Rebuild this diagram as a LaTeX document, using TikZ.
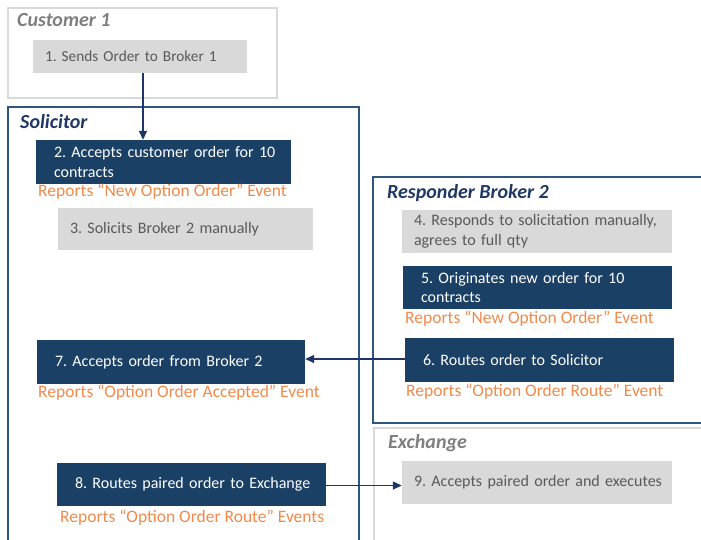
\documentclass[tikz,border=0pt]{standalone}
\usepackage{fontspec}
\setmainfont{Carlito}
\usetikzlibrary{arrows.meta}
\definecolor{navy}{HTML}{1B4065}
\definecolor{boxgray}{HTML}{D9D9D9}
\definecolor{txtgray}{HTML}{595959}
\definecolor{ttlgray}{HTML}{7F7F7F}
\definecolor{ttlblue}{HTML}{1F3864}
\definecolor{frameblue}{HTML}{31557F}
\definecolor{orng}{HTML}{F08A4B}
\definecolor{arrblue}{HTML}{1F3468}
\frenchspacing
\hbadness=10000 \hfuzz=200pt
\begin{document}
\begin{tikzpicture}[x=1pt,y=-1pt,
  base/.style={font=\fontsize{16}{19.5}\selectfont, align=left, inner ysep=0pt, anchor=center},
  navybox/.style={base, fill=navy, text=white, inner xsep=18pt},
  graybox/.style={base, fill=boxgray, text=txtgray, inner xsep=12pt},
  evt/.style={font=\fontsize{17.5}{19}\selectfont, text=orng, anchor=west, inner sep=0pt},
  ttl/.style={font=\fontsize{20}{22}\selectfont\bfseries\itshape, anchor=west, inner sep=0pt},
  grayframe/.style={draw=boxgray, line width=2pt},
  blueframe/.style={draw=frameblue, line width=2pt},
  arr/.style={draw=arrblue, line width=1.4pt, -{Triangle[length=9pt,width=8pt]}}]
\useasboundingbox (0,0) rectangle (701,539);
\begin{scope}
\clip (0,0) rectangle (701,539);
\draw[grayframe] (8,8) rectangle (277,98);
\draw[blueframe] (8,107) rectangle (359,560);
\draw[blueframe] (373,177) rectangle (720,423);
\draw[grayframe] (374,428) rectangle (720,560);
\end{scope}
\node[ttl, text=ttlgray] (t1) at (17,20) {Customer 1};
\node[ttl, text=ttlblue] (t2) at (20,122) {Solicitor};
\node[ttl, text=ttlblue] (t3) at (387,193) {Responder Broker 2};
\node[ttl, text=ttlgray] (t4) at (388,443) {Exchange};
% boxes
\node[graybox, font=\fontsize{15.3}{19}\selectfont, minimum width=214pt, minimum height=33pt, text width=190pt] (b1) at (140,56.5) {\mbox{1. Sends Order to Broker 1}};
\node[navybox, minimum width=255pt, minimum height=44pt, text width=219pt] (b2) at (163.5,162) {\mbox{2. Accepts customer order for 10}\\\mbox{contracts}};
\node[graybox, minimum width=255pt, minimum height=42pt, text width=231pt] (b3) at (185.5,229) {\mbox{3. Solicits Broker 2 manually}};
\node[graybox, minimum width=270pt, minimum height=43pt, text width=246pt] (b4) at (537,231.5) {\mbox{4. Responds to solicitation manually,}\\\mbox{agrees to full qty}};
\node[navybox, minimum width=269pt, minimum height=43pt, text width=233pt] (b5) at (537.5,287.5) {\mbox{5. Originates new order for 10}\\\mbox{contracts}};
\node[navybox, minimum width=269pt, minimum height=44pt, text width=233pt] (b6) at (539.5,360) {\mbox{6. Routes order to Solicitor}};
\node[navybox, minimum width=268pt, minimum height=44pt, text width=232pt] (b7) at (171,362) {\mbox{7. Accepts order from Broker 2}};
\node[navybox, minimum width=269pt, minimum height=43pt, text width=233pt] (b8) at (191.5,484.5) {\mbox{8. Routes paired order to Exchange}};
\node[graybox, minimum width=270pt, minimum height=43pt, text width=246pt] (b9) at (537,482.5) {\mbox{9. Accepts paired order and executes}};
% events
\node[evt] (e2) at (38,192) {Reports “New Option Order” Event};
\node[evt] (e5) at (405,319) {Reports “New Option Order” Event};
\node[evt] (e6) at (406,392) {Reports “Option Order Route” Event};
\node[evt] (e7) at (38,393) {Reports “Option Order Accepted” Event};
\node[evt] (e8) at (60,518) {Reports “Option Order Route” Events};
% arrows
\coordinate (a1) at ([xshift=3pt]b1.south);
\draw[arr] (a1) -- (a1 |- b2.north);
\coordinate (a6) at ([yshift=1pt]b6.west);
\draw[arr] (a6) -- (a6 -| b7.east);
\coordinate (a8) at ([yshift=-1pt]b8.east);
\draw[arr] (a8) -- (a8 -| b9.west);
\end{tikzpicture}
\end{document}
